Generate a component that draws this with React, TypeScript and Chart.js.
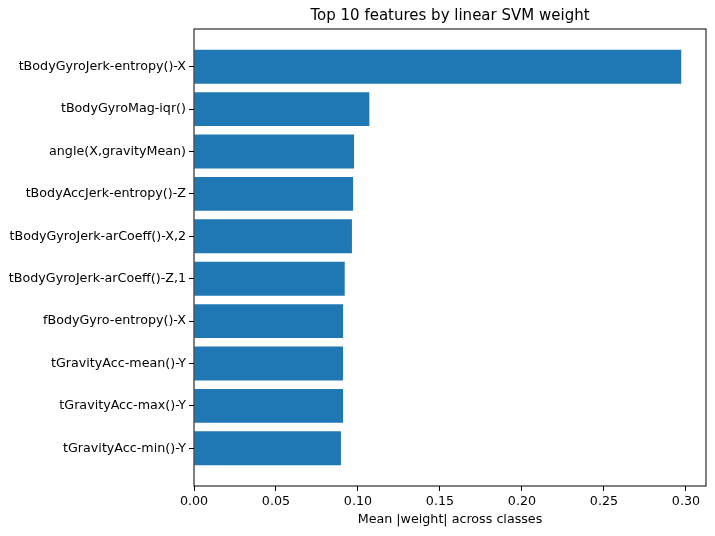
import { useEffect, useRef } from "react"
import { Chart, registerables, type ChartConfiguration, type Plugin } from "chart.js"

Chart.register(...registerables)

// features listed top to bottom
const FEATURES = [
  "tBodyGyroJerk-entropy()-X",
  "tBodyGyroMag-iqr()",
  "angle(X,gravityMean)",
  "tBodyAccJerk-entropy()-Z",
  "tBodyGyroJerk-arCoeff()-X,2",
  "tBodyGyroJerk-arCoeff()-Z,1",
  "fBodyGyro-entropy()-X",
  "tGravityAcc-mean()-Y",
  "tGravityAcc-max()-Y",
  "tGravityAcc-min()-Y",
]

const WEIGHTS = [0.2971, 0.1069, 0.0976, 0.097, 0.0963, 0.0919, 0.0909, 0.0909, 0.0909, 0.0896]

const X_TICKS = [0, 0.05, 0.1, 0.15, 0.2, 0.25, 0.3]

const FONT = "'DejaVu Sans', sans-serif"
const FS = 12.7

// black box round the plot, like matplotlib spines
const frame: Plugin = {
  id: "frame",
  afterDraw(chart) {
    const { ctx, chartArea: a } = chart
    ctx.save()
    ctx.strokeStyle = "#000"
    ctx.lineWidth = 1
    ctx.strokeRect(a.left, a.top, a.right - a.left, a.bottom - a.top)
    ctx.restore()
  },
}

// title centred over the plot area
const plotTitle: Plugin = {
  id: "plotTitle",
  afterDraw(chart) {
    const { ctx, chartArea: a } = chart
    ctx.save()
    ctx.fillStyle = "#000"
    ctx.font = `15px ${FONT}`
    ctx.textAlign = "center"
    ctx.textBaseline = "middle"
    ctx.fillText("Top 10 features by linear SVM weight", (a.left + a.right) / 2, 16)
    ctx.restore()
  },
}

export default function App() {
  const canvasRef = useRef<HTMLCanvasElement>(null)

  useEffect(() => {
    document.body.style.margin = "0"
    if (!canvasRef.current) return
    Chart.getChart(canvasRef.current)?.destroy()

    const n = FEATURES.length
    const config: ChartConfiguration = {
      type: "bar",
      data: {
        datasets: [
          {
            data: WEIGHTS.map((w, i) => ({ x: w, y: i })),
            backgroundColor: "#1f77b4",
            borderWidth: 0,
            barPercentage: 0.8,
            categoryPercentage: 1,
          },
        ],
      },
      options: {
        indexAxis: "y",
        animation: false,
        responsive: false,
        layout: { padding: { top: 29, right: 9, left: 0, bottom: 0 } },
        plugins: { legend: { display: false }, tooltip: { enabled: false }, title: { display: false } },
        scales: {
          x: {
            type: "linear",
            min: 0,
            max: 0.3122,
            afterBuildTicks: axis => { axis.ticks = X_TICKS.map(v => ({ value: v })) },
            afterFit: axis => { axis.height = 50 },
            grid: { drawOnChartArea: false, drawTicks: true, tickLength: 5, color: "#000" },
            border: { display: false },
            ticks: { color: "#000", font: { family: FONT, size: FS }, padding: 3, maxRotation: 0, callback: v => Number(v).toFixed(2) },
            title: { display: true, text: "Mean |weight| across classes", color: "#000", font: { family: FONT, size: FS }, padding: { top: 2, bottom: 9 } },
          },
          y: {
            type: "linear",
            reverse: true,
            offset: false,
            min: -0.89,
            max: n - 1 + 0.89,
            afterBuildTicks: axis => { axis.ticks = FEATURES.map((_, i) => ({ value: i })) },
            afterFit: axis => { axis.width = 194 },
            grid: { offset: false, drawOnChartArea: false, drawTicks: true, tickLength: 5, color: "#000" },
            border: { display: false },
            ticks: { color: "#000", font: { family: FONT, size: FS }, padding: 3, autoSkip: false, callback: v => FEATURES[Number(v)] ?? "" },
          },
        },
      },
      plugins: [frame, plotTitle],
    }

    const chart = new Chart(canvasRef.current, config)
    return () => chart.destroy()
  }, [])

  return (
    <div style={{ width: 715, height: 536, background: "#fff" }}>
      <canvas ref={canvasRef} width={715} height={536} />
    </div>
  )
}
